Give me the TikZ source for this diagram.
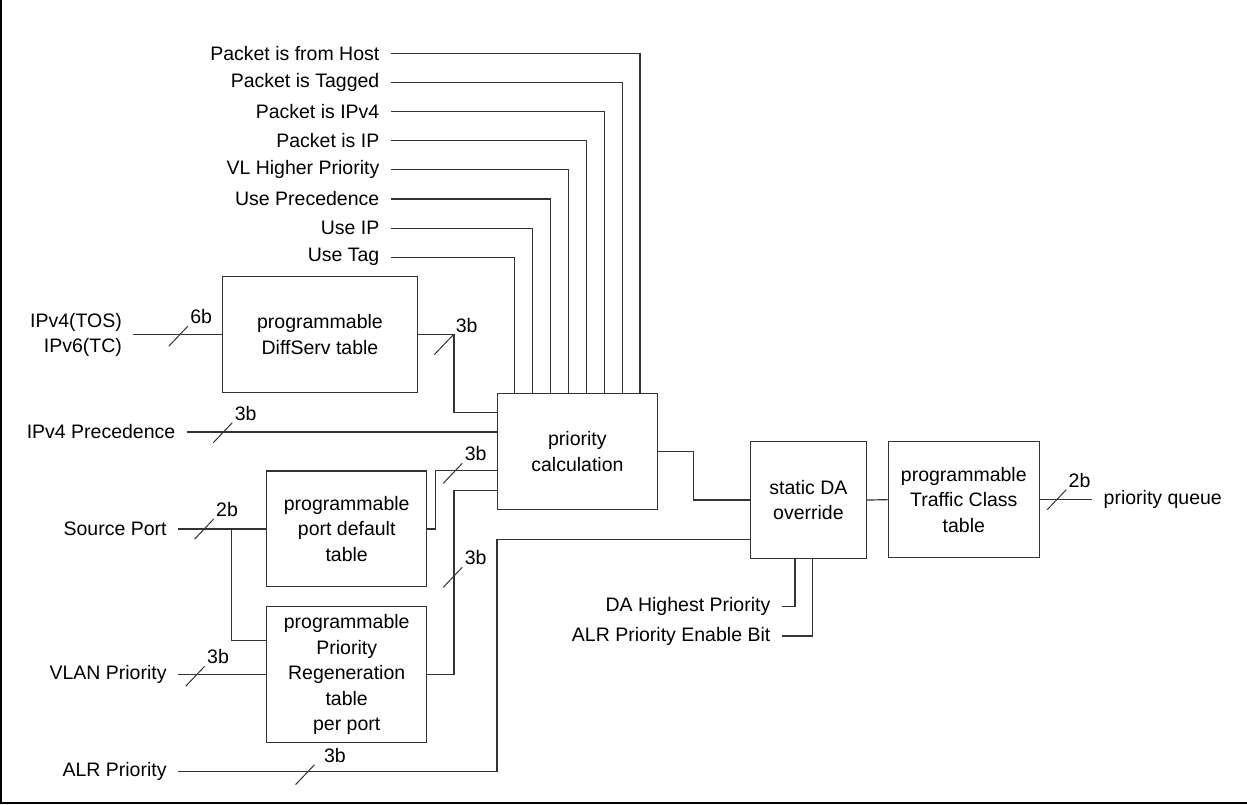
\documentclass[tikz,border=0pt]{standalone}
\usepackage{fontspec}
\setmainfont{Liberation Sans}
\usepackage{tikz}
\usetikzlibrary{calc}

% slash with bit count on a bus line: [label options], centre, text, name
\newcommand{\buswidth}[4][]{%
  \draw[busmark,shift={(#2)}] (-9.5,10) -- (9.5,-10) node[buslbl,#1] (#4) {#3};}

\begin{document}
\begin{tikzpicture}[x=0.5pt,y=-0.5pt,
  font=\fontsize{9.75}{12.75}\selectfont,
  blk/.style={draw=black!80,line width=0.6pt,align=center,inner sep=0pt},
  sig/.style={anchor=east,inner xsep=5.5pt,inner ysep=0pt,align=right},
  wire/.style={draw=black!80,line width=0.6pt},
  busmark/.style={draw=black!80,line width=0.5pt},
  buslbl/.style={anchor=south west,inner sep=1pt}]
\useasboundingbox (0,0) rectangle (1247,804);
\draw[line width=1pt] (1,0) -- (1,803) -- (1247,803);

% blocks
\node[blk,minimum width=97.7pt,minimum height=58pt] (diffserv) at (320,334.7) {programmable\\DiffServ table};
\node[blk,minimum width=79.9pt,minimum height=58pt] (prio) at (577.4,451.3) {priority\\calculation};
\node[blk,minimum width=80pt,minimum height=57.9pt] (portdef) at (346.7,528.9) {programmable\\port default\\table};
\node[blk,minimum width=80pt,minimum height=68pt] (regen) at (346.7,674.7) {programmable\\Priority\\Regeneration\\table\\per port};
\node[blk,minimum width=57.7pt,minimum height=58.3pt] (daov) at (808.4,500) {static DA\\override};
\node[blk,minimum width=75.5pt,minimum height=58pt] (tclass) at (963.8,499.7) {programmable\\Traffic Class\\table};

% inputs and output
\node[sig] (tos) at (133.3,334.7) {IPv4(TOS)\\IPv6(TC)};
\node[sig] (prec) at (186.7,432) {IPv4 Precedence};
\node[sig] (src) at (178,528.9) {Source Port};
\node[sig] (vlan) at (178,674.7) {VLAN Priority};
\node[sig] (alr) at (178,771.7) {ALR Priority};
\node[sig] (dahp) at (781.7,606.7) {DA Highest Priority};
\node[sig] (alren) at (781.7,636) {ALR Priority Enable Bit};
\node[sig,anchor=west] (queue) at (1092.3,499.7) {priority queue};

% control bits into the top of the priority block
\foreach \t [count=\i] in {Use Tag,Use IP,Use Precedence,VL Higher Priority,Packet is IP,Packet is IPv4,Packet is Tagged,Packet is from Host}{
  \node[sig] (ctl\i) at (390.7,{257.3-29.14*(\i-1)}) {\t};
  \draw[wire] (ctl\i.east) -| ($(prio.north west)!\i/9!(prio.north east)$);
}

\foreach \k in {1,...,5}
  \coordinate (pin\k) at ($(prio.north west)!\k/6!(prio.south west)$);
\coordinate (dain) at ($(daov.north west)!5/6!(daov.south west)$);
\coordinate (split) at ($(portdef.west)+(-35,0)$);

\draw[wire] (tos.east) -- (tos.east -| diffserv.west);
\draw[wire] (diffserv.east) -- ++(35.6,0) |- (pin1);
\draw[wire] (prec.east) -- (prec.east -| prio.west);
\draw[wire] (src.east) -- (src.east -| portdef.west);
\draw[wire] (split) |- ($(regen.north west)!0.25!(regen.south west)$);
\draw[wire] (portdef.east) -- ++(8.3,0) |- (pin4);
\draw[wire] (regen.east) -- ++(26.6,0) |- (pin5);
\draw[wire] (vlan.east) -- (vlan.east -| regen.west);
\draw[wire] (alr.east) -| (prio.west |- dain) -- (dain);
\draw[wire] (prio.east) -- ++(35.4,0) |- (daov.west);
\draw[wire] (daov.east) -- (tclass.west);
\draw[wire] (tclass.east) -- (queue.west);
\draw[wire] (dahp.east) -| ([xshift=-6.7pt]daov.south);
\draw[wire] (alren.east) -| ([xshift=2pt]daov.south);

% bus widths
\buswidth{178.3,336.2}{6b}{bw1}
\buswidth{443.8,344.7}{3b}{bw2}
\buswidth{222.8,432.7}{3b}{bw3}
\buswidth{204.2,529}{2b}{bw4}
\buswidth{452.8,473.3}{3b}{bw5}
\buswidth{452.8,577.3}{3b}{bw6}
\buswidth{195.2,676.2}{3b}{bw7}
\buswidth[xshift=3.5pt]{305,774.7}{3b}{bw8}
\buswidth{1056.7,499.7}{2b}{bw9}
\end{tikzpicture}
\end{document}
